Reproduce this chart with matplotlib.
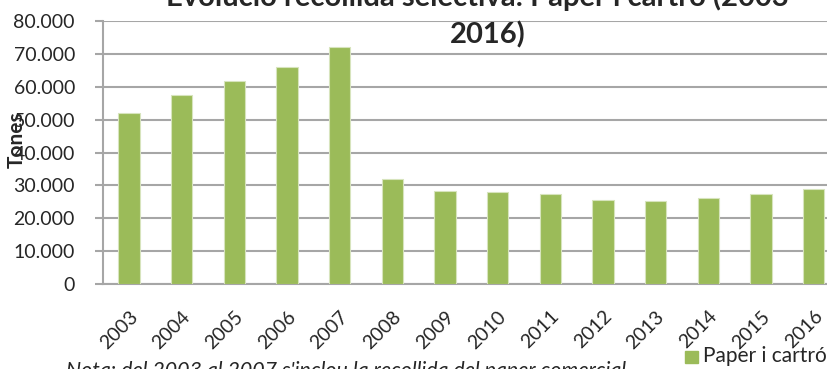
import matplotlib
matplotlib.use("Agg")
import matplotlib.pyplot as plt
from matplotlib.ticker import FuncFormatter, MultipleLocator
from matplotlib.patches import Rectangle

# Recollida selectiva de paper i cartró (tones per any)
years = ["2003", "2004", "2005", "2006", "2007", "2008", "2009",
         "2010", "2011", "2012", "2013", "2014", "2015", "2016"]
tones = [52000, 57600, 61700, 66000, 72200, 31900, 28300,
         27900, 27400, 25600, 25200, 26200, 27300, 28800]

series_name = "Paper i cartró"
title_line1 = "Evolució recollida selectiva: Paper i cartró (2003-"
title_line2 = "2016)"
y_label = "Tones"
note = "Nota: del 2003 al 2007 s'inclou la recollida del paper comercial"

plt.rcParams["font.family"] = ["Lato", "DejaVu Sans"]
BAR = "#9BBB59"
GRID = "#A6A6A6"
TEXT = "#262626"

W, H = 827, 369
fig = plt.figure(figsize=(W / 100, H / 100), dpi=100)

def fx(px):
    return px / W

def fy(py):
    return 1 - py / H

left, right, top, bottom = 102.7, 840.0, 21.0, 284.0
ax = fig.add_axes([fx(left), fy(bottom), fx(right - left), (bottom - top) / H])

x = range(len(years))
ax.bar(x, tones, width=0.4, color=BAR, edgecolor="#D7E4BD", linewidth=0.8, zorder=3)

ax.set_xlim(-0.5, len(years) - 0.5)
ax.set_ylim(0, 80000)
ax.yaxis.set_major_locator(MultipleLocator(10000))
ax.yaxis.set_major_formatter(FuncFormatter(lambda v, p: f"{int(v):,}".replace(",", ".")))
ax.grid(axis="y", color=GRID, linewidth=1.5, zorder=0)
ax.set_axisbelow(True)

for s in ["top", "right"]:
    ax.spines[s].set_visible(False)
for s in ["left", "bottom"]:
    ax.spines[s].set_color(GRID)
    ax.spines[s].set_linewidth(1.5)

ax.tick_params(axis="y", length=6, width=1.5, color=GRID, pad=14,
               labelsize=14, labelcolor=TEXT)
ax.tick_params(axis="x", length=0, pad=17, labelsize=14, labelcolor=TEXT)

ax.set_xticks(list(x))
ax.set_xticklabels(years, rotation=45, ha="right", rotation_mode="anchor")

# Títol (la primera línia queda parcialment fora del marc)
fig.text(fx(483), fy(6), title_line1, ha="center", va="baseline",
         fontsize=21, fontweight="bold", color=TEXT)
fig.text(fx(488), fy(43), title_line2, ha="center", va="baseline",
         fontsize=21, fontweight="bold", color=TEXT)

fig.text(fx(17), fy(140), y_label, rotation=90, ha="center", va="center",
         fontsize=15, fontweight="bold", color=TEXT)

# Llegenda
fig.patches.append(Rectangle((fx(685), fy(363)), fx(13), 12 / H,
                             transform=fig.transFigure, color=BAR))
fig.text(fx(703), fy(362), series_name, ha="left", va="baseline",
         fontsize=15, color=TEXT)

fig.text(fx(66), fy(377), note, ha="left", va="baseline",
         fontsize=15.4, style="italic", color=TEXT)

fig.savefig("out.png", dpi=100)
